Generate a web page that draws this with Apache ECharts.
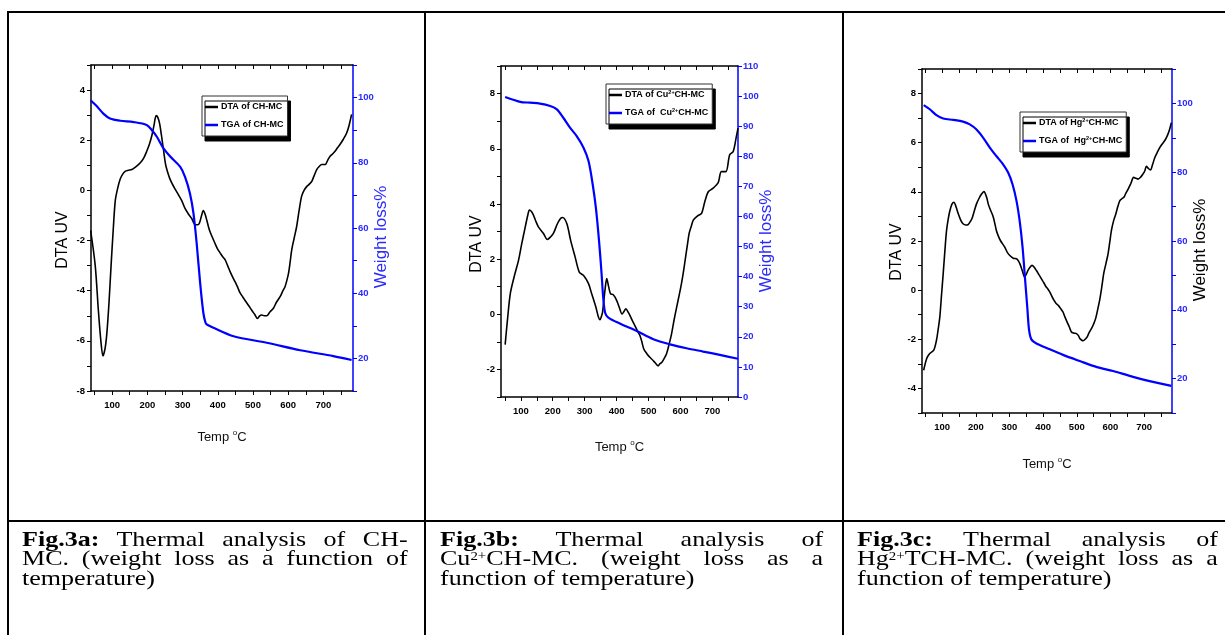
<!DOCTYPE html>
<html>
<head>
<meta charset="utf-8">
<script src="https://cdn.jsdelivr.net/npm/echarts@6/dist/echarts.min.js"></script>
<style>
  html, body { margin: 0; padding: 0; background: #fff; }
  #page { position: relative; width: 1225px; height: 635px; overflow: hidden; }
  #chart { position: absolute; left: 0; top: 0; width: 1225px; height: 635px; }
  .rule { position: absolute; background: #000; }
  .cap { position: absolute; top: 530px; font-family: "Liberation Serif", "Times New Roman", serif;
         font-size: 21px; line-height: 19.4px; color: #000; transform-origin: 0 0; transform: scaleX(1.24); }
  .cap div { white-space: nowrap; }
  .cap .j { text-align: justify; text-align-last: justify; }
  .cap sup { font-size: 12px; line-height: 0; vertical-align: 5px; }
</style>
</head>
<body>
<div id="page">
  <div id="chart"></div>
  <div class="rule" style="left:7px;top:11px;width:1218px;height:2px"></div>
  <div class="rule" style="left:7px;top:520px;width:1218px;height:2px"></div>
  <div class="rule" style="left:7px;top:11px;width:2px;height:624px"></div>
  <div class="rule" style="left:424px;top:11px;width:2px;height:624px"></div>
  <div class="rule" style="left:842px;top:11px;width:2px;height:624px"></div>

  <div class="cap" style="left:22px;width:311px">
    <div class="j"><b>Fig.3a:</b> Thermal analysis of CH-</div>
    <div class="j">MC. (weight loss as a function of</div>
    <div>temperature)</div>
  </div>
  <div class="cap" style="left:440px;width:309px">
    <div class="j"><b>Fig.3b:</b> Thermal analysis of</div>
    <div class="j">Cu<sup>2+</sup>CH-MC. (weight loss as a</div>
    <div>function of temperature)</div>
  </div>
  <div class="cap" style="left:857px;width:291px">
    <div class="j"><b>Fig.3c:</b> Thermal analysis of</div>
    <div class="j">Hg<sup>2+</sup>TCH-MC. (weight loss as a</div>
    <div>function of temperature)</div>
  </div>
</div>

<script>
// tick labels
var xLabels = [100, 200, 300, 400, 500, 600, 700];
var xTicks = [50, 100, 150, 200, 250, 300, 350, 400, 450, 500, 550, 600, 650, 700, 750];
var leftLabelsA = [-8, -6, -4, -2, 0, 2, 4];
var leftLabelsB = [-2, 0, 2, 4, 6, 8];
var leftLabelsC = [-4, -2, 0, 2, 4, 6, 8];
var rightLabelsA = [20, 40, 60, 80, 100];
var rightLabelsB = [0, 10, 20, 30, 40, 50, 60, 70, 80, 90, 100, 110];
var rightLabelsC = [20, 40, 60, 80, 100];

// Fig.3a  CH-MC  [temp, value]
var dtaA = [[39,-1.6],[52,-3.0],[61,-4.8],[68,-6.0],[74,-6.6],[80,-6.3],[85,-5.7],[91,-4.5],[97,-3.0],[103,-1.6],[109,-0.4],
  [116,0.1],[123,0.45],[130,0.65],[137,0.76],[146,0.8],[156,0.83],[168,0.95],[180,1.1],[190,1.3],[198,1.55],[206,1.85],
  [213,2.2],[219,2.6],[225,2.98],[230,2.9],[235,2.65],[240,2.2],[246,1.6],[251,1.1],[256,0.8],[263,0.5],[270,0.28],
  [279,0.05],[288,-0.17],[298,-0.42],[307,-0.72],[317,-0.95],[326,-1.12],[336,-1.37],[343,-1.37],[348,-1.3],[354,-1.0],
  [359,-0.8],[364,-0.95],[369,-1.2],[376,-1.57],[384,-1.85],[392,-2.11],[400,-2.35],[407,-2.5],[414,-2.65],[421,-2.77],
  [428,-3.0],[435,-3.24],[442,-3.45],[449,-3.64],[456,-3.85],[463,-4.08],[471,-4.25],[480,-4.44],[488,-4.6],[496,-4.77],
  [505,-4.95],[513,-5.11],[519,-5.0],[525,-4.97],[532,-5.0],[539,-5.0],[548,-4.85],[558,-4.7],[567,-4.45],[577,-4.24],
  [585,-4.0],[591,-3.84],[596,-3.6],[601,-3.3],[606,-2.8],[610,-2.37],[617,-1.9],[624,-1.44],[631,-0.8],[638,-0.24],
  [645,0.0],[653,0.16],[660,0.25],[667,0.36],[674,0.6],[681,0.83],[688,0.95],[695,1.03],[705,1.03],[712,1.2],[719,1.36],
  [726,1.45],[733,1.56],[740,1.7],[747,1.83],[757,2.05],[766,2.29],[773,2.6],[780,3.03]];
var tgaA = [[39,99.2],[56,97.4],[75,95.1],[94,93.6],[123,92.9],[161,92.5],[198,91.6],[213,90.0],[227,88.0],[246,84.4],
  [265,81.9],[293,78.8],[307,75.7],[321,70.6],[331,64.5],[340,55.4],[350,43.1],[359,34.0],[365,31.0],[369,30.4],
  [388,29.4],[445,26.8],[539,24.8],[634,22.5],[728,20.7],[780,19.5]];

// Fig.3b  Cu2+CH-MC
var dtaB = [[51,-1.1],[58,-0.23],[67,0.74],[79,1.35],[93,1.96],[103,2.56],[114,3.17],[122,3.6],[127,3.78],[137,3.66],
  [146,3.4],[155,3.17],[171,2.93],[183,2.71],[193,2.8],[202,2.93],[215,3.29],[225,3.48],[231,3.51],[244,3.29],[256,2.68],
  [270,2.08],[283,1.53],[296,1.41],[312,1.11],[322,0.74],[335,0.26],[343,-0.1],[348,-0.2],[353,-0.05],[356,0.08],
  [364,0.92],[369,1.29],[375,1.0],[381,0.74],[388,0.72],[395,0.62],[402,0.45],[408,0.26],[417,0.01],[423,0.1],[429,0.2],
  [436,0.08],[442,-0.05],[450,-0.25],[457,-0.41],[465,-0.6],[473,-0.77],[479,-1.0],[485,-1.26],[494,-1.42],[504,-1.56],
  [512,-1.65],[520,-1.75],[530,-1.87],[535,-1.8],[541,-1.75],[548,-1.62],[556,-1.44],[564,-1.1],[572,-0.71],[580,-0.2],
  [588,0.26],[596,0.7],[603,1.11],[610,1.6],[616,2.08],[622,2.55],[627,2.93],[634,3.2],[640,3.41],[653,3.56],[666,3.66],
  [676,4.08],[687,4.44],[702,4.57],[718,4.77],[728,5.17],[742,5.17],[754,5.78],[765,5.9],[775,6.45],[780,6.75]];
var tgaB = [[51,99.7],[98,98.1],[129,97.8],[160,97.5],[192,96.7],[213,95.6],[233,92.8],[254,89.5],[275,86.7],[296,82.9],
  [312,78.4],[325,70.7],[335,62.9],[345,51.8],[353,40.8],[358,33.0],[364,28.0],[374,26.4],[410,24.4],[463,21.9],
  [515,19.2],[567,17.5],[619,16.2],[671,15.1],[723,14.0],[780,12.7]];

// Fig.3c  Hg2+CH-MC
var dtaC = [[45,-3.26],[54,-2.78],[63,-2.58],[75,-2.44],[83,-2.04],[88,-1.6],[93,-1.09],[98,-0.2],[103,0.67],[108,1.6],
  [113,2.43],[118,2.9],[123,3.24],[129,3.5],[135,3.58],[141,3.4],[148,3.1],[155,2.85],[162,2.7],[170,2.65],[177,2.67],
  [184,2.8],[190,2.97],[196,3.25],[202,3.51],[210,3.75],[217,3.91],[224,4.01],[232,3.78],[237,3.5],[242,3.31],[252,2.97],
  [261,2.43],[267,2.2],[273,2.02],[286,1.75],[293,1.55],[301,1.41],[311,1.3],[321,1.28],[326,1.2],[331,1.07],[338,0.8],
  [345,0.53],[350,0.65],[355,0.8],[361,0.93],[367,1.01],[374,0.92],[380,0.8],[388,0.62],[395,0.46],[402,0.3],[408,0.15],
  [414,0.05],[420,-0.08],[426,-0.25],[432,-0.41],[438,-0.53],[445,-0.62],[452,-0.75],[459,-0.89],[465,-1.1],[471,-1.29],
  [478,-1.5],[484,-1.7],[492,-1.75],[499,-1.77],[505,-1.85],[509,-1.97],[514,-2.03],[519,-2.06],[525,-2.0],[531,-1.9],
  [537,-1.72],[544,-1.56],[550,-1.38],[556,-1.16],[562,-0.8],[568,-0.41],[574,0.1],[580,0.67],[587,1.1],[593,1.48],
  [598,1.95],[603,2.43],[609,2.8],[616,3.1],[622,3.4],[628,3.64],[634,3.72],[640,3.78],[646,3.95],[653,4.12],[661,4.35],
  [669,4.59],[676,4.55],[682,4.52],[690,4.6],[697,4.73],[702,4.85],[707,5.04],[713,4.95],[719,4.89],[725,5.1],[732,5.4],
  [739,5.6],[747,5.81],[754,5.95],[761,6.08],[766,6.2],[771,6.35],[776,6.55],[781,6.82]];
var tgaC = [[45,99.5],[63,98.3],[83,96.6],[103,95.6],[133,95.2],[162,94.7],[182,93.9],[202,92.4],[222,90.0],[242,87.1],
  [261,84.7],[281,82.3],[296,79.9],[309,76.5],[321,71.6],[331,65.3],[339,58.1],[346,49.3],[353,40.6],[358,34.3],
  [365,31.4],[380,30.2],[420,28.5],[459,26.9],[509,25.1],[558,23.4],[608,22.2],[657,20.8],[707,19.5],[781,17.9]];

var sans = '"Liberation Sans Narrow", "Arial Narrow", "Liberation Sans", Arial, sans-serif';
var blue = '#0000ff';
var labelBlue = '#2a2aff';

var panels = [
  {grid: {left: 91, top: 65, width: 262, height: 326}, xMin: 40, xMax: 784, nameGap: 38,
   lMin: -8, lMax: 5, lLabels: leftLabelsA, rMin: 10, rMax: 110, rLabels: rightLabelsA,
   dta: dtaA, tga: tgaA, dtaName: 'DTA of CH-MC', tgaName: 'TGA of CH-MC', legend: {left: 202, top: 96}},
  {grid: {left: 501, top: 66, width: 237, height: 331}, xMin: 38, xMax: 780, nameGap: 42,
   lMin: -3, lMax: 9, lLabels: leftLabelsB, rMin: 0, rMax: 110, rLabels: rightLabelsB,
   dta: dtaB, tga: tgaB, dtaName: 'DTA of Cu2+CH-MC', tgaName: 'TGA of  Cu2+CH-MC', legend: {left: 606, top: 84}},
  {grid: {left: 922, top: 69, width: 250, height: 344}, xMin: 40, xMax: 783, nameGap: 43,
   lMin: -5, lMax: 9, lLabels: leftLabelsC, rMin: 10, rMax: 110, rLabels: rightLabelsC,
   dta: dtaC, tga: tgaC, dtaName: 'DTA of Hg2+CH-MC', tgaName: 'TGA of  Hg2+CH-MC', legend: {left: 1020, top: 112}}
];

var option = {
  animation: false,
  backgroundColor: 'transparent',
  grid: [], xAxis: [], yAxis: [], series: [], legend: [], graphic: []
};

panels.forEach(function (p, i) {
  option.grid.push(Object.assign({outerBoundsMode: 'none'}, p.grid));
  option.xAxis.push({
    gridIndex: i, type: 'value', position: 'bottom', min: p.xMin, max: p.xMax,
    axisLine: {show: true, onZero: false, lineStyle: {color: '#000', width: 1.5}},
    axisTick: {show: true, inside: false, length: 4, customValues: xTicks, lineStyle: {color: '#000'}},
    axisLabel: {customValues: xLabels, margin: 9, color: '#000', fontFamily: sans, fontWeight: 'bold', fontSize: 9.5},
    splitLine: {show: false},
    name: 'Temp {o|o}C', nameLocation: 'middle', nameGap: p.nameGap,
    nameTextStyle: {color: '#111', fontFamily: sans, fontSize: 13, lineHeight: 16,
      rich: {o: {fontSize: 8, fontFamily: sans, color: '#111', verticalAlign: 'top', lineHeight: 16}}}
  });
  option.xAxis.push({
    gridIndex: i, type: 'value', position: 'top', min: p.xMin, max: p.xMax,
    axisLine: {show: true, onZero: false, lineStyle: {color: '#000', width: 1.5}},
    axisTick: {show: true, inside: true, length: 4, customValues: xTicks, lineStyle: {color: '#000'}},
    axisLabel: {show: false}, splitLine: {show: false}
  });
  option.yAxis.push({
    gridIndex: i, type: 'value', position: 'left', min: p.lMin, max: p.lMax, interval: 1,
    axisLine: {show: true, onZero: false, lineStyle: {color: '#000', width: 1.5}},
    axisTick: {show: true, inside: false, length: 4, lineStyle: {color: '#000'}},
    axisLabel: {customValues: p.lLabels, margin: 6, color: '#000', fontFamily: sans, fontWeight: 'bold', fontSize: 9.5},
    splitLine: {show: false}
  });
  option.yAxis.push({
    gridIndex: i, type: 'value', position: 'right', min: p.rMin, max: p.rMax, interval: 10,
    axisLine: {show: true, onZero: false, lineStyle: {color: blue, width: 1.5}},
    axisTick: {show: true, inside: false, length: 4, lineStyle: {color: blue}},
    axisLabel: {customValues: p.rLabels, margin: 5, color: labelBlue, fontFamily: sans, fontWeight: 'bold', fontSize: 9.5},
    splitLine: {show: false}
  });
  option.series.push({
    name: p.dtaName, type: 'line', xAxisIndex: 2 * i, yAxisIndex: 2 * i, data: p.dta,
    symbol: 'none', smooth: 0.3, lineStyle: {color: '#000', width: 1.6}, itemStyle: {color: '#000'}
  });
  option.series.push({
    name: p.tgaName, type: 'line', xAxisIndex: 2 * i, yAxisIndex: 2 * i + 1, data: p.tga,
    symbol: 'none', smooth: 0.3, lineStyle: {color: blue, width: 2.2}, itemStyle: {color: blue}
  });
  option.legend.push({
    data: [{name: p.dtaName, icon: 'rect'}, {name: p.tgaName, icon: 'rect'}],
    orient: 'vertical', left: p.legend.left, top: p.legend.top,
    selectedMode: false, itemWidth: 13, itemHeight: 2.5, itemGap: 6, padding: [5, 4, 5, 3],
    backgroundColor: '#fff', borderColor: '#333', borderWidth: 1, borderRadius: 0,
    shadowColor: '#000', shadowBlur: 0, shadowOffsetX: 3, shadowOffsetY: 5,
    formatter: function (name) { return name.replace('2+', '{s|2+}'); },
    textStyle: {color: '#000', fontFamily: sans, fontWeight: 'bold', fontSize: 9, lineHeight: 12, padding: [0, 0, 0, -2],
      rich: {s: {fontSize: 5.5, fontFamily: sans, fontWeight: 'bold', color: '#000', verticalAlign: 'top', lineHeight: 12}}}
  });
});

// rotated axis titles
var titles = [
  {x: 63, y: 240, text: 'DTA UV', color: '#000', size: 16},
  {x: 381, y: 237, text: 'Weight loss%', color: labelBlue, size: 17},
  {x: 477, y: 244, text: 'DTA UV', color: '#000', size: 16},
  {x: 766, y: 241, text: 'Weight loss%', color: labelBlue, size: 17},
  {x: 897, y: 252, text: 'DTA UV', color: '#000', size: 16},
  {x: 1200, y: 250, text: 'Weight loss%', color: '#000', size: 17}
];
titles.forEach(function (t) {
  option.graphic.push({
    type: 'text', x: t.x, y: t.y, rotation: Math.PI / 2,
    style: {text: t.text, fill: t.color, font: t.size + 'px "Liberation Sans", Arial, sans-serif',
      align: 'center', verticalAlign: 'middle'}
  });
});

var chart = echarts.init(document.getElementById('chart'));
chart.setOption(option);
</script>
</body>
</html>
